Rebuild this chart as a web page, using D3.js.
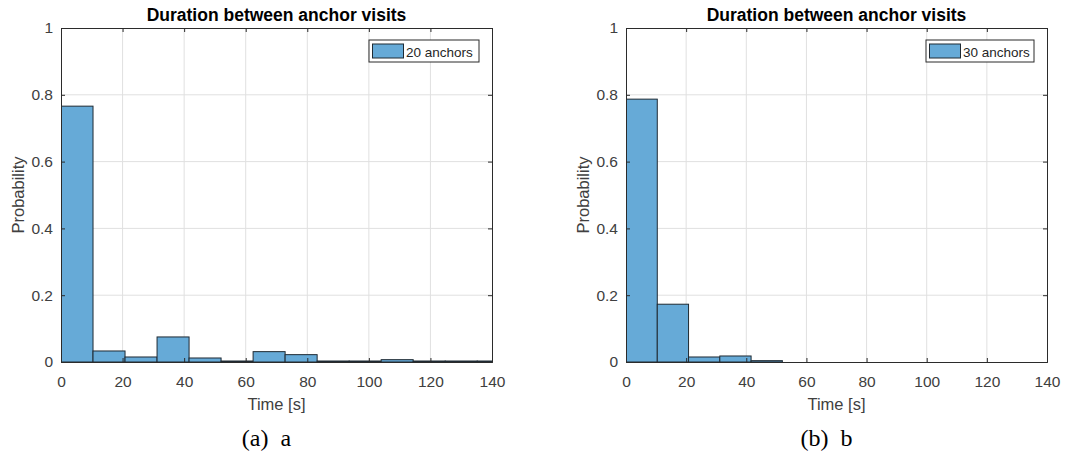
<!DOCTYPE html>
<html>
<head>
<meta charset="utf-8">
<script src="https://cdn.jsdelivr.net/npm/d3@7"></script>
<style>
  html, body { margin: 0; padding: 0; background: #fff; }
  svg { display: block; }
  text { font-family: "Liberation Sans", Arial, sans-serif; }
</style>
</head>
<body>
<svg id="fig" width="1073" height="462"></svg>
<script>
// Histogram bin edges (seconds) shared by both panels
const binEdges = [0, 10.4, 20.8, 31.2, 41.6, 52, 62.4, 72.8, 83.2, 93.6, 104, 114.4, 124.8, 135.2, 145.6];

// Probability per bin
const probs20 = [0.766, 0.033, 0.015, 0.075, 0.012, 0.003, 0.031, 0.022, 0.003, 0.003, 0.007, 0.003, 0.003, 0.003];
const probs30 = [0.787, 0.173, 0.015, 0.018, 0.004];

const xTicks = [0, 20, 40, 60, 80, 100, 120, 140];
const yTicks = [0, 0.2, 0.4, 0.6, 0.8, 1];
const yTickLabels = ["0", "0.2", "0.4", "0.6", "0.8", "1"];

const titleText = "Duration between anchor visits";
const xLabelText = "Time [s]";
const yLabelText = "Probability";

const panels = [
  { id: "a", values: probs20, legend: "20 anchors", caption: "(a)\u2002a",
    left: 61, right: 492, legendW: 110, yLabelX: 24 },
  { id: "b", values: probs30, legend: "30 anchors", caption: "(b)\u2002b",
    left: 626, right: 1047, legendW: 108, yLabelX: 589 }
];

const plotTop = 28, plotBottom = 362;
const barFill = "#66aad7";
const barStroke = "#1f2a33";
const axisColor = "#2b2b2b";
const labelColor = "#404040";
const gridColor = "#e0e0e0";

const svg = d3.select("#fig");

panels.forEach(p => {
  const x = d3.scaleLinear().domain([0, 140]).range([p.left, p.right]);
  const y = d3.scaleLinear().domain([0, 1]).range([plotBottom, plotTop]);
  const g = svg.append("g").attr("class", "panel-" + p.id);

  // clip for bars that run past the axis limit
  g.append("clipPath").attr("id", "clip-" + p.id)
    .append("rect")
    .attr("x", p.left).attr("y", plotTop)
    .attr("width", p.right - p.left).attr("height", plotBottom - plotTop);

  // grid
  g.append("g").selectAll("line").data(xTicks.slice(1, -1)).join("line")
    .attr("x1", d => x(d)).attr("x2", d => x(d))
    .attr("y1", plotTop).attr("y2", plotBottom)
    .attr("stroke", gridColor).attr("stroke-width", 1);
  g.append("g").selectAll("line").data(yTicks.slice(1, -1)).join("line")
    .attr("x1", p.left).attr("x2", p.right)
    .attr("y1", d => y(d)).attr("y2", d => y(d))
    .attr("stroke", gridColor).attr("stroke-width", 1);

  // bars
  const bins = p.values.map((v, i) => ({ x0: binEdges[i], x1: binEdges[i + 1], v }));
  g.append("g").attr("clip-path", "url(#clip-" + p.id + ")")
    .selectAll("rect").data(bins).join("rect")
    .attr("x", d => x(d.x0))
    .attr("width", d => x(d.x1) - x(d.x0))
    .attr("y", d => y(d.v))
    .attr("height", d => y(0) - y(d.v))
    .attr("fill", barFill)
    .attr("stroke", barStroke)
    .attr("stroke-width", 1);

  // axes (ticks pointing inward, box on all sides)
  const tl = 4;
  const xb = d3.axisBottom(x).tickValues(xTicks).tickSize(-tl).tickPadding(10).tickFormat(d3.format("d"));
  const xt = d3.axisTop(x).tickValues(xTicks).tickSize(-tl).tickFormat("");
  const yl = d3.axisLeft(y).tickValues(yTicks).tickSize(-tl).tickPadding(8).tickFormat((d, i) => yTickLabels[i]);
  const yr = d3.axisRight(y).tickValues(yTicks).tickSize(-tl).tickFormat("");

  const styleAxis = sel => {
    sel.selectAll("path.domain").attr("stroke", axisColor).attr("stroke-width", 1);
    sel.selectAll(".tick line").attr("stroke", axisColor);
    sel.selectAll(".tick text").attr("fill", labelColor)
      .style("font-family", '"Liberation Sans", Arial, sans-serif')
      .style("font-size", "15.5px");
  };
  g.append("g").attr("transform", `translate(0,${plotBottom})`).call(xb).call(styleAxis)
    .selectAll(".tick text").attr("dy", "0.95em");
  g.append("g").attr("transform", `translate(0,${plotTop})`).call(xt).call(styleAxis);
  g.append("g").attr("transform", `translate(${p.left},0)`).call(yl).call(styleAxis);
  g.append("g").attr("transform", `translate(${p.right},0)`).call(yr).call(styleAxis);

  // title
  g.append("text")
    .attr("x", (p.left + p.right) / 2).attr("y", 21)
    .attr("text-anchor", "middle")
    .attr("font-size", "17.5px").attr("font-weight", "bold")
    .attr("fill", "#000")
    .text(titleText);

  // axis labels
  g.append("text")
    .attr("x", (p.left + p.right) / 2).attr("y", 410)
    .attr("text-anchor", "middle")
    .attr("font-size", "16.5px").attr("fill", labelColor)
    .text(xLabelText);
  g.append("text")
    .attr("transform", `translate(${p.yLabelX},${(plotTop + plotBottom) / 2}) rotate(-90)`)
    .attr("text-anchor", "middle")
    .attr("font-size", "16.5px").attr("fill", labelColor)
    .text(yLabelText);

  // legend
  const lx = p.right - 13 - p.legendW, ly = 40;
  const lg = g.append("g");
  lg.append("rect").attr("x", lx).attr("y", ly).attr("width", p.legendW).attr("height", 22)
    .attr("fill", "#fff").attr("stroke", "#2b2b2b").attr("stroke-width", 1);
  lg.append("rect").attr("x", lx + 3.5).attr("y", ly + 4).attr("width", 31).attr("height", 14)
    .attr("fill", barFill).attr("stroke", barStroke).attr("stroke-width", 1);
  lg.append("text").attr("x", lx + 37).attr("y", ly + 16.5)
    .attr("font-size", "13.5px").attr("fill", "#262626")
    .text(p.legend);

  // subfigure caption
  g.append("text")
    .attr("x", (p.left + p.right) / 2 - 10).attr("y", 446)
    .attr("text-anchor", "middle")
    .style("font-family", '"Liberation Serif", "DejaVu Serif", serif')
    .attr("font-size", "24px").attr("fill", "#000")
    .text(p.caption);
});
</script>
</body>
</html>
